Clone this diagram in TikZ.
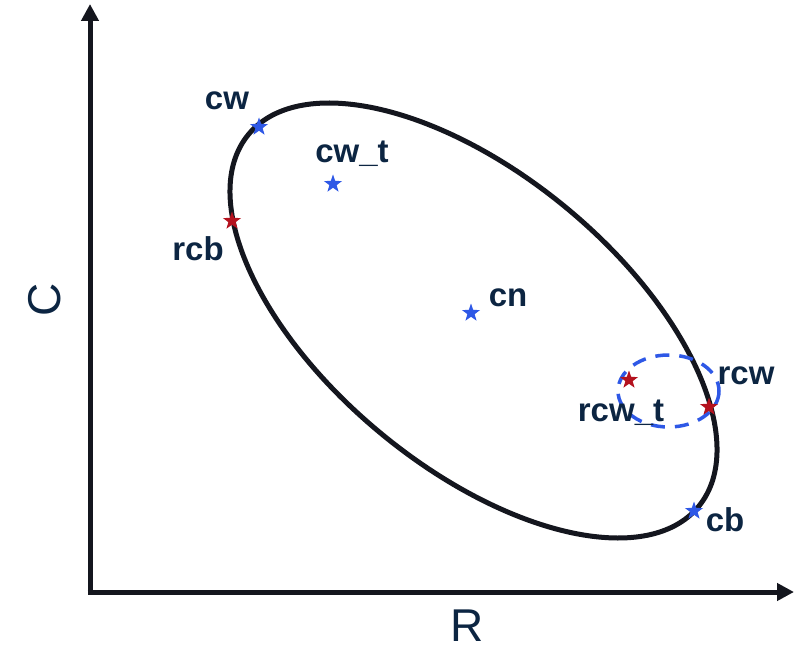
\documentclass[tikz,border=0pt]{standalone}
\usepackage{fontspec}
\setmainfont{Liberation Sans}
\usetikzlibrary{arrows.meta,shapes.geometric}
\definecolor{txt}{RGB}{12,37,66}
\definecolor{axis}{RGB}{20,22,30}
\definecolor{bstar}{RGB}{46,88,230}
\definecolor{rstar}{RGB}{180,18,30}
\tikzset{
  axisline/.style={draw=axis,line width=5pt,-{Triangle[length=17pt,width=17pt]}},
  pt/.style={star,star points=5,star point ratio=2.5,minimum size=19pt,inner sep=0pt,draw=none,fill=#1},
  lab/.style={text=txt,font=\fontsize{33}{36}\selectfont\bfseries,inner sep=0pt,anchor=base},
  axlab/.style={text=txt,font=\fontsize{46}{50}\selectfont,inner sep=0pt},
}
\begin{document}
\begin{tikzpicture}[x=1pt,y=-1pt]
\useasboundingbox (0,0) rectangle (797,652);
\coordinate (O) at (90,592);
\coordinate (Ytop) at (90,4);
\coordinate (Xend) at (794,592);
\draw[axisline] ([yshift=-2.5pt]O) -- (Ytop);
\draw[axisline] ([xshift=-2.5pt]O) -- (Xend);
\node[axlab,rotate=90] (Clab) at (45,300) {C};
\node[axlab,anchor=base,text depth=0pt] (Rlab) at (467,641) {R};
% big ellipse
\draw[draw=axis,line width=5pt,rotate around={-39.6:(473.5,320.5)}] (473.5,320.5) ellipse [x radius=292, y radius=146];
% dashed ellipse
\draw[draw=bstar,line width=3.5pt,dash pattern=on 14pt off 10pt] (668.5,391) ellipse [x radius=50.5, y radius=36];
% stars
\node[pt=bstar] (cw) at (259,127) {};
\node[pt=bstar] (cwt) at (333,184) {};
\node[pt=rstar] (rcb) at (232,221) {};
\node[pt=bstar] (cn) at (471,313) {};
\node[pt=rstar] (rcwt) at (629,380) {};
\node[pt=rstar] (rcw) at (709,407) {};
\node[pt=bstar] (cb) at (694,511) {};
% labels
\node[lab] (lcw) at (227,110) {cw};
\node[lab] (lcwt) at (352,163) {cw\_t};
\node[lab] (lrcb) at (198,261) {rcb};
\node[lab] (lcn) at (508,306) {cn};
\node[lab] (lrcw) at (746,384) {rcw};
\node[lab] (lrcwt) at (621,421) {rcw\_t};
\node[lab] (lcb) at (725,531) {cb};
\end{tikzpicture}
\end{document}
